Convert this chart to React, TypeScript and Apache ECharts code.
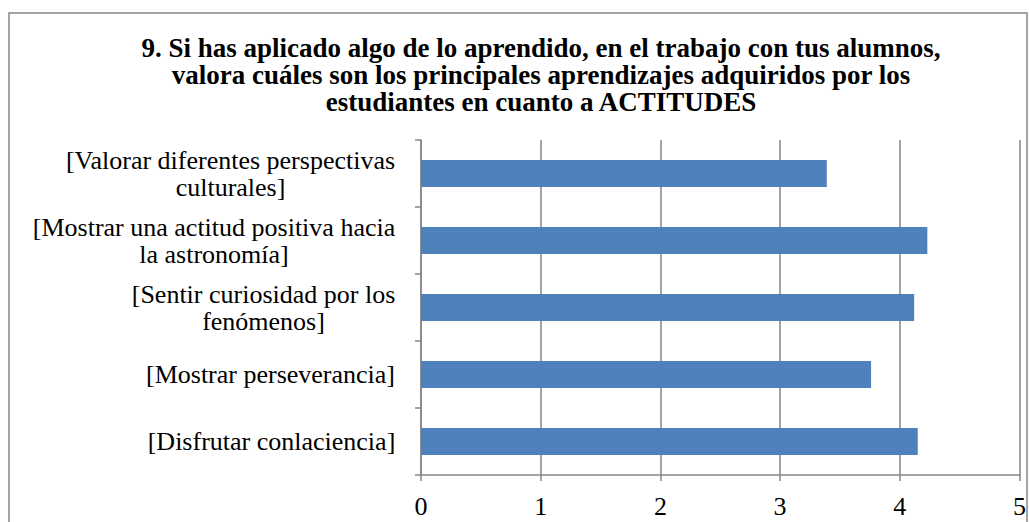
import React, { useEffect, useRef } from "react";
import * as echarts from "echarts";

const titleText =
  "9. Si has aplicado algo de lo aprendido, en el trabajo con tus alumnos,\nvalora cuáles son los principales aprendizajes adquiridos por los\nestudiantes en cuanto a ACTITUDES";

const categories = [
  "[Valorar diferentes perspectivas\nculturales]",
  "[Mostrar una actitud positiva hacia\nla astronomía]",
  "[Sentir curiosidad por los\nfenómenos]",
  "[Mostrar perseverancia]",
  "[Disfrutar conlaciencia]",
];

const values = [3.39, 4.23, 4.12, 3.76, 4.15];

const xTicks = [0, 1, 2, 3, 4, 5];

const FONT = "Liberation Serif";
const GRAY = "#868686";
const LABEL_SIZE = 26;

export default function App() {
  const ref = useRef<HTMLDivElement>(null);
  useEffect(() => {
    if (!ref.current) return;
    const chart = echarts.init(ref.current, undefined, { renderer: "svg" });

    const canvas = document.createElement("canvas");
    const ctx = canvas.getContext("2d")!;
    ctx.font = LABEL_SIZE + "px " + FONT;
    const rich: Record<string, any> = {};
    categories.forEach((c, i) => {
      const w = Math.max(...c.split("\n").map((l) => ctx.measureText(l).width));
      rich["l" + i] = {
        width: Math.ceil(w) + 1,
        align: "center",
        fontFamily: FONT,
        fontSize: LABEL_SIZE,
        lineHeight: 27,
        color: "#000",
      };
    });

    chart.setOption({
      animation: false,
      backgroundColor: "#fff",
      textStyle: { fontFamily: FONT },
      title: {
        text: titleText,
        left: 541,
        top: 34,
        textAlign: "center",
        padding: 0,
        textStyle: {
          fontFamily: FONT,
          fontSize: 27,
          fontWeight: "bold",
          lineHeight: 27,
          color: "#000",
        },
      },
      graphic: [
        {
          type: "rect",
          shape: { x: 9, y: 13, width: 1018, height: 540 },
          style: { fill: "none", stroke: GRAY, lineWidth: 1.5 },
          silent: true,
          z: -1,
        },
      ],
      grid: { left: 421, right: 7, top: 140, bottom: 47, containLabel: false },
      xAxis: {
        type: "value",
        min: xTicks[0],
        max: xTicks[xTicks.length - 1],
        interval: 1,
        axisLine: { show: true, lineStyle: { color: GRAY, width: 1.5 } },
        axisTick: { show: true, length: 6, lineStyle: { color: GRAY, width: 1.5 } },
        splitLine: { show: true, lineStyle: { color: GRAY, width: 1.5 } },
        axisLabel: {
          margin: 18,
          fontFamily: FONT,
          fontSize: LABEL_SIZE,
          color: "#000",
        },
      },
      yAxis: {
        type: "category",
        inverse: true,
        data: categories,
        axisLine: { show: true, lineStyle: { color: GRAY, width: 1.5 } },
        axisTick: { show: true, length: 6, lineStyle: { color: GRAY, width: 1.5 } },
        axisLabel: {
          margin: 25,
          fontFamily: FONT,
          fontSize: LABEL_SIZE,
          color: "#000",
          lineHeight: 27,
          align: "right",
          formatter: (v: string, i: number) =>
            v
              .split("\n")
              .map((l) => `{l${i}|${l}}`)
              .join("\n"),
          rich,
        },
      },
      series: [
        {
          type: "bar",
          data: values,
          barWidth: 27,
          itemStyle: { color: "#4F81BD" },
        },
      ],
    });
    return () => chart.dispose();
  }, []);
  return (
    <div
      ref={ref}
      style={{ position: "fixed", left: 0, top: 0, width: 1029, height: 522 }}
    />
  );
}
